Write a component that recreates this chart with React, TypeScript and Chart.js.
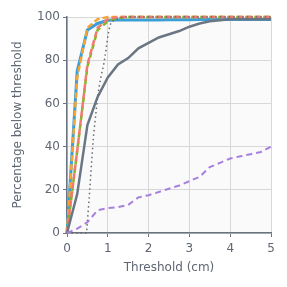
import React, { useEffect, useRef } from "react";
import { Chart, registerables } from "chart.js";

Chart.register(...registerables);

const thresholds = [0, 0.25, 0.5, 0.75, 1.0, 1.25, 1.5, 1.75, 2.0, 2.25, 2.5, 2.75, 3.0, 3.25, 3.5, 3.75, 4.0, 4.25, 4.5, 4.75, 5.0];

const blueSeries = [0, 75, 94, 97, 98.5, 98.6, 98.6, 98.6, 98.6, 98.6, 98.7, 98.7, 98.7, 98.8, 98.8, 98.8, 98.8, 98.8, 98.8, 98.8, 98.8];
const orangeSeries = [0, 72, 95, 99, 100, 100, 100, 100, 100, 100, 100, 100, 100, 100, 100, 100, 100, 100, 100, 100, 100];
const redSeries = [0, 38, 78, 95, 99, 100, 100, 100, 100, 100, 100, 100, 100, 100, 100, 100, 100, 100, 100, 100, 100];
const greenSeries = [0, 38, 77, 94, 98, 99.5, 100, 100, 100, 100, 100, 100, 100, 100, 100, 100, 100, 100, 100, 100, 100];
const greySeries = [0, 18, 50, 63, 72, 78, 81, 85.5, 88, 90.5, 92, 93.5, 95.5, 97, 98, 98.5, 99, 99, 99, 99, 99];
const purpleSeries = [0, 2, 5, 10.5, 11.5, 12, 13, 16.5, 17.5, 19, 20.5, 22, 24, 26, 30.5, 32.5, 34.5, 35.5, 36.5, 37.5, 40];

const dottedX = [0, 0.25, 0.48, 0.55, 0.6, 0.65, 0.7, 0.75, 0.8, 0.85, 0.9, 0.95, 1.0, 1.05, 1.1, 1.2, 1.3, 1.4, 5.0];
const dottedY = [0, 0, 0, 18, 32, 45, 54, 63, 69, 74, 78, 84, 91, 96, 98, 99, 99.6, 100, 100];

const xTicks = [0, 1, 2, 3, 4, 5];
const yTicks = [0, 20, 40, 60, 80, 100];

const pts = (xs: number[], ys: number[]) => xs.map((x, i) => ({ x, y: ys[i] }));

const bgPlugin = {
  id: "plotBg",
  beforeDraw(chart: any) {
    const { ctx, chartArea } = chart;
    ctx.save();
    ctx.fillStyle = "#fafafa";
    ctx.fillRect(chartArea.left, chartArea.top, chartArea.right - chartArea.left, chartArea.bottom - chartArea.top);
    ctx.restore();
  },
};

export default function App() {
  const ref = useRef<HTMLCanvasElement | null>(null);
  useEffect(() => {
    if (!ref.current) return;
    const font = { family: "DejaVu Sans", size: 12 };
    const tickColor = "#5f6773";
    const gridCfg: any = { color: "#d8d8d8", borderDash: [1.5, 2], tickLength: 4, tickColor: "#6b7280", tickBorderDash: [], drawTicks: true };
    const chart = new Chart(ref.current, {
      type: "line",
      data: {
        datasets: [
          { data: pts(thresholds, purpleSeries), borderColor: "#a87fe0", borderWidth: 2, borderDash: [6, 4], pointRadius: 0, tension: 0 },
          { data: pts(dottedX, dottedY), borderColor: "#666a70", borderWidth: 1.5, borderDash: [1.5, 3], pointRadius: 0, tension: 0 },
          { data: pts(thresholds, greySeries), borderColor: "#6a7684", borderWidth: 2.5, pointRadius: 0, tension: 0 },
          { data: pts(thresholds, redSeries), borderColor: "#f07a70", borderWidth: 2.5, borderDash: [6, 3], pointRadius: 0, tension: 0 },
          { data: pts(thresholds, greenSeries), borderColor: "#84b522", borderWidth: 2.5, borderDash: [5, 4], borderDashOffset: 3, pointRadius: 0, tension: 0 },
          { data: pts(thresholds, orangeSeries), borderColor: "#f4a535", borderWidth: 2.5, borderDash: [6, 3], pointRadius: 0, tension: 0 },
          { data: pts(thresholds, blueSeries), borderColor: "#3a9fd6", borderWidth: 3, pointRadius: 0, tension: 0 },
        ] as any,
      },
      options: {
        animation: false,
        responsive: false,
        maintainAspectRatio: false,
        layout: { padding: { top: 17, right: 16, left: 11, bottom: 12 } },
        plugins: { legend: { display: false }, tooltip: { enabled: false } },
        datasets: { line: { clip: false } } as any,
        scales: {
          x: {
            type: "linear",
            min: 0,
            max: 5,
            afterBuildTicks: (s: any) => { s.ticks = xTicks.map((v) => ({ value: v })); },
            afterFit: (s: any) => { s.height = 42; },
            ticks: { color: tickColor, font, padding: 5, maxRotation: 0 },
            grid: gridCfg,
            border: { display: true, color: "#6b7280", width: 1.5 },
            title: { display: true, text: "Threshold (cm)", color: tickColor, font, padding: { top: 2, bottom: 0 } },
          },
          y: {
            type: "linear",
            min: 0,
            max: 100,
            afterBuildTicks: (s: any) => { s.ticks = yTicks.map((v) => ({ value: v })); },
            afterFit: (s: any) => { s.width = 56; },
            ticks: { color: tickColor, font, padding: 3 },
            grid: gridCfg,
            border: { display: true, color: "#6b7280", width: 1.5 },
            title: { display: true, text: "Percentage below threshold", color: tickColor, font, padding: { top: 0, bottom: 2 } },
          },
        },
      },
      plugins: [bgPlugin],
    });
    return () => chart.destroy();
  }, []);
  return (
    <div style={{ position: "fixed", left: 0, top: 0, width: 287, height: 287, background: "#fff" }}>
      <canvas ref={ref} width={287} height={287} style={{ width: 287, height: 287 }} />
    </div>
  );
}
